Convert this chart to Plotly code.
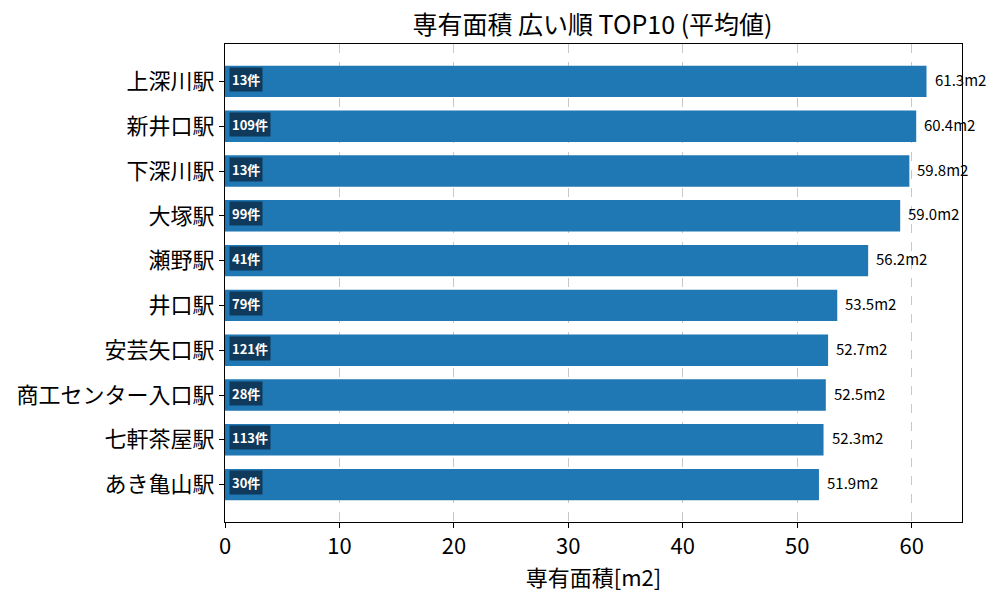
import plotly.graph_objects as go

stations = ["上深川駅", "新井口駅", "下深川駅", "大塚駅", "瀬野駅", "井口駅", "安芸矢口駅",
            "商工センター入口駅", "七軒茶屋駅", "あき亀山駅"]
areas = [61.3, 60.4, 59.8, 59.0, 56.2, 53.5, 52.7, 52.5, 52.3, 51.9]
counts = [13, 109, 13, 99, 41, 79, 121, 28, 113, 30]

FONT = "Noto Sans CJK JP"
ypos = list(range(len(stations)))[::-1]

fig = go.Figure()
fig.add_trace(go.Bar(
    x=areas, y=ypos, orientation="h", width=0.7,
    marker=dict(color="#1f77b4", line=dict(width=0)),
    hoverinfo="skip",
))

for yv, a, c in zip(ypos, areas, counts):
    fig.add_annotation(x=a, y=yv, text=f"{a:.1f}m2", showarrow=False,
                       xanchor="left", xshift=6, yshift=2,
                       font=dict(family=FONT, size=15, color="black"))
    fig.add_annotation(x=0.35, y=yv, text=f"<b>{c}件</b>", showarrow=False,
                       xanchor="left", yshift=2, bgcolor="rgba(15,50,78,0.88)",
                       borderpad=2,
                       font=dict(family=FONT, size=13, color="white"))

fig.update_layout(
    width=1000, height=600,
    margin=dict(l=225, r=38, t=44, b=78),
    plot_bgcolor="white", paper_bgcolor="white",
    showlegend=False,
    title=dict(text="専有面積 広い順 TOP10 (平均値)", x=0.5925, xanchor="center",
               y=0.958, yanchor="middle",
               font=dict(family=FONT, size=25, color="black")),
    xaxis=dict(range=[0, 64.4], tickvals=[0, 10, 20, 30, 40, 50, 60],
               showgrid=True, gridcolor="#c8c8c8", griddash="dash", gridwidth=1,
               zeroline=False, showline=True, linecolor="black", linewidth=1,
               mirror=True, ticks="outside", ticklen=5, tickcolor="black",
               tickfont=dict(family=FONT, size=22, color="black"),
               title=dict(text="専有面積[m2]", font=dict(family=FONT, size=22, color="black"),
                          standoff=6)),
    yaxis=dict(range=[-0.835, 9.835], tickvals=ypos, ticktext=stations,
               showgrid=False, zeroline=False, showline=True, linecolor="black",
               linewidth=1, mirror=True, ticks="outside", ticklen=5, tickcolor="black",
               tickfont=dict(family=FONT, size=22, color="black")),
)

fig.write_html("out.html")
